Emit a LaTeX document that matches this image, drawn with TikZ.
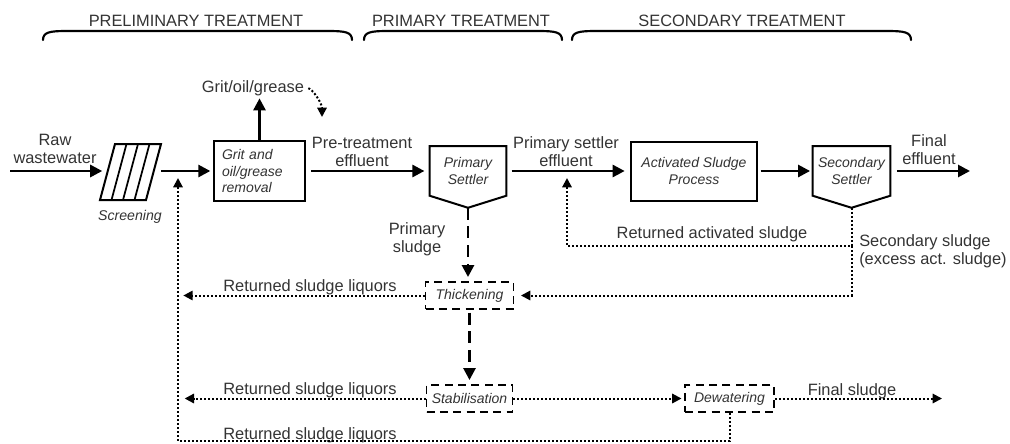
\documentclass[tikz,border=0pt]{standalone}
\usepackage{fontspec}
\setmainfont{Liberation Sans}
\usetikzlibrary{arrows.meta}
\definecolor{labelgrey}{RGB}{51,51,51}

\tikzset{
  lbl/.style={font=\fontsize{12.3}{13.5}\selectfont, text=labelgrey, align=center, inner sep=0pt},
  unit/.style={draw, line width=1.5pt, font=\fontsize{10.5}{12.5}\selectfont\itshape, text=labelgrey, align=center, inner sep=0pt},
  settler/.style={font=\fontsize{10.5}{12.5}\selectfont\itshape, text=labelgrey, align=center, inner sep=0pt, minimum width=57pt, minimum height=36.75pt},
  sludgebox/.style={draw, line width=1.2pt, dash pattern=on 6pt off 4pt, font=\fontsize{10.5}{12.5}\selectfont\itshape, text=labelgrey, inner sep=0pt, minimum height=20.5pt},
  flow/.style={line width=2pt, -{Triangle[length=9pt,width=9pt]}},
  sludgeflow/.style={line width=2pt, dash pattern=on 9pt off 5pt, -{Triangle[length=9pt,width=9pt]}},
  liquor/.style={line width=1.5pt, dash pattern=on 1.5pt off 1.5pt, -{Triangle[length=7pt,width=7pt]}},
  brace/.style={line width=1.6pt, line cap=round}
}

\begin{document}
\begin{tikzpicture}[x=0.75pt,y=-0.75pt]
\useasboundingbox (0,0) rectangle (1010,443);

% treatment stages
\node [lbl, anchor=base] (prelim) at (196,26) {PRELIMINARY TREATMENT};
\node [lbl, anchor=base] (prim) at (461,26) {PRIMARY TREATMENT};
\node [lbl, anchor=base] (second) at (742,26) {SECONDARY TREATMENT};
\draw [brace] (43,40) .. controls (43,32) and (50,31) .. (67,31) -- (328,31) .. controls (345,31) and (352,32) .. (352,40);
\draw [brace] (364,40) .. controls (364,32) and (371,31) .. (388,31) -- (538,31) .. controls (555,31) and (562,32) .. (562,40);
\draw [brace] (572,40) .. controls (572,32) and (579,31) .. (596,31) -- (887,31) .. controls (904,31) and (911,32) .. (911,40);

% water line
\coordinate (rawin) at (10,171);
\node [lbl] (rawlbl) at (55,149) {Raw\\wastewater};
\node [inner sep=0pt, minimum width=42pt, minimum height=42pt] (screen) at (130.5,171) {};
\draw [line width=1.5pt] (100,200) -- (115,144) -- (161,144) -- (146,200) -- cycle;
\foreach \i in {1,2,3}
  \draw [line width=1.3pt] ({100+11.5*\i},200) -- ({115+11.5*\i},144);
\node [lbl, font=\fontsize{10.6}{12.5}\selectfont\itshape] (screenlbl) at (130,217) {Screening};

\node [unit, minimum width=68.25pt, minimum height=45pt, text width=56.25pt, align=left] (grit) at (259.5,171) {Grit and\\oil/grease\\removal};
\node [lbl, anchor=base] (gritlbl) at (253,92) {Grit/oil/grease};
\coordinate (gritout) at (322,117);

\node [settler] (ps) at (468,171) {Primary\\Settler};
\coordinate (pstip) at ([yshift=-9pt]ps.south);
\draw [line width=1.5pt] (ps.north west) -- (ps.north east) -- (ps.south east) -- (pstip) -- (ps.south west) -- cycle;

\node [unit, minimum width=94.5pt, minimum height=44.25pt] (asp) at (694,171) {Activated Sludge\\Process};

\node [settler, minimum width=57.75pt] (ss) at (851.5,171) {Secondary\\Settler};
\coordinate (sstip) at ([yshift=-9pt]ss.south);
\draw [line width=1.5pt] (ss.north west) -- (ss.north east) -- (ss.south east) -- (sstip) -- (ss.south west) -- cycle;
\coordinate (effout) at (970,171);

\node [lbl] (ptlbl) at (362,152) {Pre-treatment\\effluent};
\node [lbl] (pselbl) at (566,151.5) {Primary settler\\effluent};
\node [lbl] (efflbl) at (929,150) {Final\\effluent};

\draw [flow] (rawin) -- (screen.west);
\draw [flow, shorten <=2pt, shorten >=2pt] (screen.east) -- (grit.west);
\draw [flow, shorten <=4pt, shorten >=4pt] (grit.east) -- (ps.west);
\draw [flow, shorten <=4pt, shorten >=4pt] (ps.east) -- (asp.west);
\draw [flow, shorten <=2pt, shorten >=2pt] (asp.east) -- (ss.west);
\draw [flow, shorten <=5pt] (ss.east) -- (effout);
\draw [flow, shorten >=2pt] (grit.north) -- (grit.north |- gritlbl.south);
\draw [liquor, shorten <=3pt] (gritlbl.east) .. controls +(8,1) and +(0,-14) .. (gritout);

% sludge line
\node [sludgebox, minimum width=66pt] (thick) at (469.5,295.5) {Thickening};
\node [sludgebox, minimum width=64.5pt] (stab) at (469.5,398.5) {Stabilisation};
\node [sludgebox, minimum width=66.75pt] (dew) at (729.5,398.5) {Dewatering};
\coordinate (sssplit) at (851.5,246);
\coordinate (rasin) at (567,178);
\coordinate (rettop) at (178,178);
\coordinate (retbot) at (178,441);
\coordinate (sludgeout) at (942,398.5);

\node [lbl] (pslbl) at (417,239.5) {Primary\\sludge};
\node [lbl, align=left, anchor=west] (sslbl) at (859,251) {Secondary sludge\\(excess act. sludge)};
\node [lbl, anchor=base] (raslbl) at (712,238) {Returned activated sludge};
\node [lbl, anchor=base] (liq1) at (310,291) {Returned sludge liquors};
\node [lbl, anchor=base] (liq2) at (310,394) {Returned sludge liquors};
\node [lbl, anchor=base] (liq3) at (310,439) {Returned sludge liquors};
\node [lbl, anchor=base] (fslbl) at (852,395) {Final sludge};

\draw [sludgeflow, shorten >=3pt] (pstip) -- (pstip |- thick.north);
\draw [sludgeflow, shorten <=2pt, shorten >=3pt] (thick.south) -- (stab.north);
\draw [liquor] (sstip) -- (sssplit) -| (rasin);
\draw [liquor, shorten >=5pt] (sssplit) |- (thick.east);
\draw [liquor, shorten >=4pt] (thick.west) -- (thick.west -| retbot);
\draw [liquor, shorten >=5pt] (stab.west) -- (stab.west -| retbot);
\draw [liquor, shorten >=2pt] (stab.east) -- (dew.west);
\draw [liquor] (dew.east) -- (sludgeout);
\draw [liquor] (dew.south) |- (retbot) -- (rettop);
\end{tikzpicture}
\end{document}
